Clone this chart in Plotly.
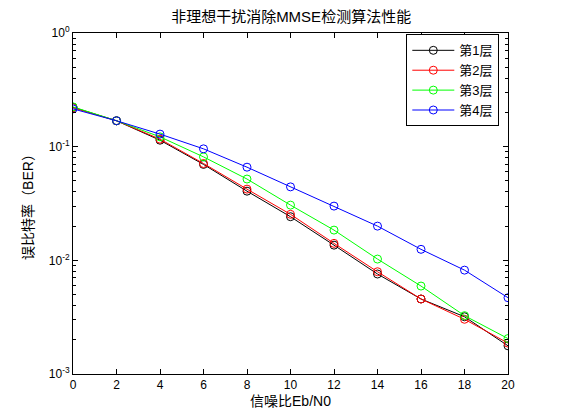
import plotly.graph_objects as go

# Eb/N0 (dB) and BER of each layer
snr = [0, 2, 4, 6, 8, 10, 12, 14, 16, 18, 20]
ber_layer1 = [0.222, 0.169, 0.114, 0.0698, 0.0406, 0.0242, 0.0136, 0.00758, 0.00457, 0.00319, 0.00177]
ber_layer2 = [0.220, 0.169, 0.1164, 0.0711, 0.0423, 0.0254, 0.0141, 0.00794, 0.00457, 0.00303, 0.00187]
ber_layer3 = [0.224, 0.169, 0.122, 0.0813, 0.0519, 0.0306, 0.01845, 0.01026, 0.00594, 0.00326, 0.00205]
ber_layer4 = [0.215, 0.169, 0.129, 0.0957, 0.066, 0.0443, 0.030, 0.020, 0.0125, 0.0082, 0.00469]
layer_names = ["第1层", "第2层", "第3层", "第4层"]
layer_colors = ["#000000", "#ff0000", "#00ff00", "#0000ff"]

y_tickvals = [0.001, 0.01, 0.1, 1]
y_ticktext = ["10<sup>-3</sup>", "10<sup>-2</sup>", "10<sup>-1</sup>", "10<sup>0</sup>"]
minor_vals = [m * d for d in (0.001, 0.01, 0.1) for m in range(2, 10)]

font_main = "Liberation Sans, Noto Sans CJK SC, sans-serif"

fig = go.Figure()
for name, color, ber in zip(layer_names, layer_colors,
                            [ber_layer1, ber_layer2, ber_layer3, ber_layer4]):
    fig.add_trace(go.Scatter(x=snr, y=ber, mode="lines+markers", name=name,
                             line=dict(color=color, width=1),
                             marker=dict(symbol="circle-open", size=8, color=color,
                                         line=dict(width=1, color=color))))

# the page body adds an 8px margin, so the figure is a bit smaller than the window
fig.update_layout(
    width=553, height=412,
    margin=dict(l=65, r=53, t=25, b=46),
    paper_bgcolor="white", plot_bgcolor="white",
    font=dict(family=font_main, size=12, color="black"),
    title=dict(text="非理想干扰消除MMSE检测算法性能", x=0.512, xanchor="center",
               y=0.978, yanchor="middle", font=dict(size=15, family=font_main)),
    legend=dict(x=0.98, xanchor="right", y=0.996, yanchor="top",
                bgcolor="white", bordercolor="black", borderwidth=1,
                font=dict(size=13), tracegroupgap=0, itemwidth=42),
    showlegend=True,
)

fig.update_xaxes(range=[0, 20], dtick=2, tick0=0,
                 showline=True, linecolor="black", linewidth=1, mirror="allticks",
                 ticks="inside", ticklen=5, tickcolor="black", showgrid=False, zeroline=False,
                 title=dict(text="信噪比Eb/N0", font=dict(size=14), standoff=4))
fig.update_yaxes(type="log", range=[-3, 0], tickvals=y_tickvals, ticktext=y_ticktext,
                 showline=True, linecolor="black", linewidth=1, mirror="allticks",
                 ticks="inside", ticklen=5, tickcolor="black", showgrid=False, zeroline=False,
                 minor=dict(tickvals=minor_vals, ticks="inside", ticklen=3, tickcolor="black"),
                 title=dict(text="误比特率（BER）", font=dict(size=14), standoff=11))

fig.write_html("out.html")
